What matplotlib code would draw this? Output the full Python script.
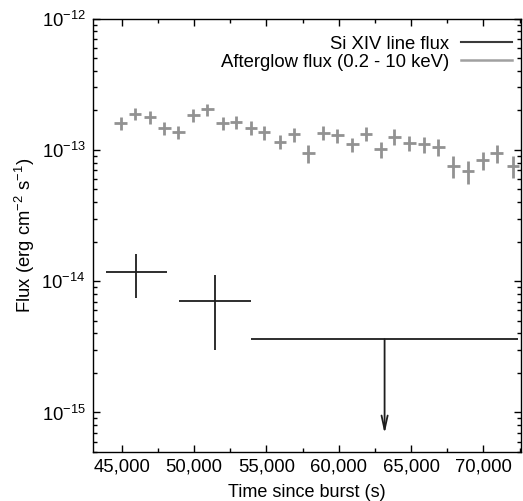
import matplotlib.pyplot as plt
import matplotlib.ticker as mticker
from matplotlib.lines import Line2D
import numpy as np

# Si XIV line flux (detections)
si_t = [46000, 51450]
si_terr = [2100, 2490]
si_f = [1.175e-14, 7.06e-15]
si_flo = [7.41e-15, 3.01e-15]
si_fhi = [1.60e-14, 1.11e-14]

# Si XIV upper limit
lim_t = 63170
lim_terr = 9210
lim_f = 3.61e-15
lim_arrow_to = 6.9e-16

# afterglow flux 0.2-10 keV
ag_t = [44930, 45920, 46950, 47950, 48910, 49950, 50920, 51980, 52900, 53940,
        54840, 55940, 56910, 57900, 58940, 59910, 60940, 61890, 62900, 63850,
        64880, 65900, 66890, 67930, 68920, 69950, 70920, 72030]
ag_terr = 430
ag_f = [1.59, 1.89, 1.77, 1.47, 1.37, 1.84, 2.03, 1.59, 1.63, 1.47,
        1.36, 1.15, 1.31, 0.94, 1.35, 1.29, 1.10, 1.32, 1.01, 1.26,
        1.13, 1.10, 1.05, 0.755, 0.688, 0.834, 0.94, 0.755]
ag_ferr = [0.18, 0.21, 0.20, 0.17, 0.15, 0.20, 0.22, 0.18, 0.18, 0.18,
           0.17, 0.14, 0.16, 0.15, 0.17, 0.16, 0.14, 0.16, 0.14, 0.17,
           0.15, 0.15, 0.16, 0.14, 0.14, 0.13, 0.14, 0.14]
ag_scale = 1e-13

yticks = [1e-15, 1e-14, 1e-13, 1e-12]
labels = ['Si XIV line flux', 'Afterglow flux (0.2 - 10 keV)']

plt.rcParams['font.family'] = ['Liberation Sans', 'DejaVu Sans']
plt.rcParams['mathtext.fontset'] = 'custom'
plt.rcParams['mathtext.rm'] = 'Liberation Sans'
plt.rcParams['mathtext.default'] = 'regular'
fs = 13.3
blk = '#1e1e1e'
gry = '#929292'

fig = plt.figure(figsize=(5.23, 5.01), dpi=100)
ax = fig.add_axes([0.1774, 0.0978, 0.9962 - 0.1774, 0.963 - 0.0978])

agf = np.array(ag_f) * ag_scale
age = np.array(ag_ferr) * ag_scale
ax.errorbar(ag_t, agf, xerr=ag_terr, yerr=age, fmt='none',
            ecolor=gry, elinewidth=2.0, capsize=0)

yerr = [np.array(si_f) - np.array(si_flo), np.array(si_fhi) - np.array(si_f)]
ax.errorbar(si_t, si_f, xerr=si_terr, yerr=yerr, fmt='none',
            ecolor=blk, elinewidth=1.3, capsize=0)

# upper limit bar + arrow
ax.errorbar([lim_t], [lim_f], xerr=lim_terr, fmt='none',
            ecolor=blk, elinewidth=1.3, capsize=0)
ax.annotate('', xy=(lim_t, lim_arrow_to), xytext=(lim_t, lim_f),
            arrowprops=dict(arrowstyle='->,head_length=1.0,head_width=0.22',
                            color=blk, lw=1.3, shrinkA=0, shrinkB=0))

ax.set_yscale('log')
ax.set_xlim(43000, 72600)
ax.set_ylim(5e-16, 1e-12)

ax.xaxis.set_major_locator(mticker.MultipleLocator(5000))
ax.xaxis.set_minor_locator(mticker.MultipleLocator(2500))
ax.xaxis.set_major_formatter(mticker.FuncFormatter(lambda v, p: '{:,.0f}'.format(v)))
ax.set_yticks(yticks)
ax.yaxis.set_minor_locator(mticker.LogLocator(base=10, subs=np.arange(2, 10)))
ax.yaxis.set_minor_formatter(mticker.NullFormatter())

ax.tick_params(which='both', direction='in', top=True, right=True,
               labelsize=fs, width=1.0, color='black')
ax.tick_params(which='major', length=5, pad=5)
ax.tick_params(which='minor', length=3)
for s in ax.spines.values():
    s.set_linewidth(1.0)

ax.set_xlabel('Time since burst (s)', fontsize=13)
ax.set_ylabel('Flux (erg cm$^{-2}$ s$^{-1}$)', fontsize=fs)
ax.xaxis.set_label_coords(0.5, -0.074)
ax.yaxis.set_label_coords(-0.13, 0.5)

hs = [Line2D([], [], color='#3a3a3a', lw=1.5),
      Line2D([], [], color='#a0a0a0', lw=1.8)]
ax.legend(hs, labels, loc='upper right', frameon=False, markerfirst=False,
          fontsize=fs, handlelength=2.8, handletextpad=0.6, labelspacing=0.05,
          borderaxespad=0.3, bbox_to_anchor=(1.01, 0.99))

fig.savefig('out.png', dpi=100)
